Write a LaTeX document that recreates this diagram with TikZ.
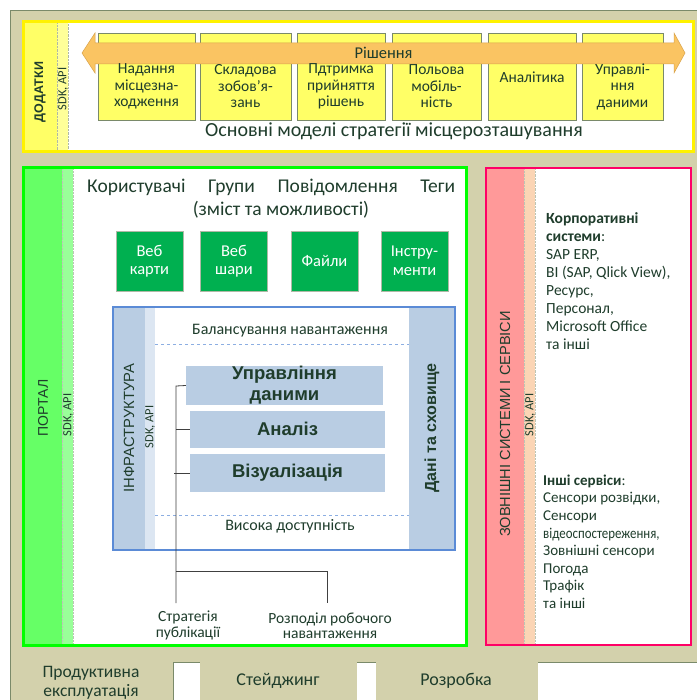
\documentclass[tikz,border=0pt]{standalone}
\usepackage{fontspec}
\usepackage{graphicx}
\setmainfont{Carlito}
\newfontfamily\arialf{Liberation Sans}
\usetikzlibrary{positioning}

\definecolor{beige}{HTML}{D3D1AC}
\definecolor{frameline}{HTML}{7A8A6A}
\definecolor{txt}{HTML}{1F3D2C}
\definecolor{yelbox}{HTML}{FFFF66}
\definecolor{yelband}{HTML}{FFFF99}
\definecolor{arrowfill}{HTML}{FAC462}
\definecolor{arrowline}{HTML}{D9A24A}
\definecolor{portal}{HTML}{66FF66}
\definecolor{portalsdk}{HTML}{99FF99}
\definecolor{webgreen}{HTML}{00B050}
\definecolor{infra}{HTML}{B9CDE3}
\definecolor{infrasdk}{HTML}{DCE6F2}
\definecolor{infraline}{HTML}{5B8BD6}
\definecolor{extband}{HTML}{FF9999}
\definecolor{extsdk}{HTML}{FBD5B5}
\definecolor{extline}{HTML}{FF0066}

\begin{document}
\begin{tikzpicture}[x=1pt,y=-1pt,
  every node/.style={text=txt,inner sep=0pt},
  model box/.style={draw=frameline,fill=yelbox,minimum height=87pt},
  model text/.style={font=\fontsize{15.5}{16.5}\selectfont,align=center},
  web box/.style={draw=frameline!60,fill=webgreen,minimum width=67pt,minimum height=60pt,
    text=white,font=\fontsize{16.5}{18.5}\selectfont,align=center},
  core box/.style={fill=infra,minimum width=196pt,minimum height=37pt,
    font=\arialf\bfseries\fontsize{18.5}{21}\selectfont,align=center},
  side label/.style={rotate=90,font=\arialf\fontsize{14.8}{16}\selectfont},
  sdk label/.style={rotate=90,font=\fontsize{12.5}{14}\selectfont},
  list text/.style={font=\fontsize{15.5}{18}\selectfont,align=left,anchor=north west},
  link/.style={draw=black!75,line width=0.8pt}]

  \useasboundingbox (0,0) rectangle (697,700);
  \fill[white] (0,0) rectangle (697,700);
  \fill[beige] (10,11) rectangle (697,700);
  \draw[frameline,line width=1pt] (10,700) -- (10,11) -- (697,11);

  % bottom tabs
  \fill[white] (173,662) rectangle (697,700);
  \draw[frameline,line width=1pt] (173,700) -- (173,662) -- (697,662);
  \fill[beige] (200,662) rectangle (357,700);
  \fill[beige] (376,662) rectangle (538,700);
  \node[font=\fontsize{17.5}{19}\selectfont,align=center] (prod) at (91,683) {Продуктивна\\експлуатація};
  \node[font=\fontsize{18}{20}\selectfont] (stage) at (278,681) {Стейджинг};
  \node[font=\fontsize{18}{20}\selectfont] (dev) at (456,681) {Розробка};

  % apps
  \fill[white] (23,22) rectangle (693,152);
  \fill[yelbox] (23,22) rectangle (57,152);
  \filldraw[fill=yelband,draw=frameline!60,densely dotted,line width=0.4pt] (57,22) rectangle (68,152);
  \draw[yellow,line width=3pt] (23,22) rectangle (693,152);
  \node[side label,font=\arialf\bfseries\fontsize{12.5}{15}\selectfont] (apps) at (40,92) {ДОДАТКИ};
  \node[sdk label] (appsdk) at (63,89) {SDK, API};

  \node[model box,minimum width=97pt] (m1) at (146.5,76.5) {};
  \node[model box,minimum width=91pt] (m2) at (245.5,76.5) {};
  \node[model box,minimum width=88pt] (m3) at (341,76.5) {};
  \node[model box,minimum width=89pt] (m4) at (436.5,76.5) {};
  \node[model box,minimum width=88pt] (m5) at (532,76.5) {};
  \node[model box,minimum width=81pt] (m6) at (622.5,76.5) {};

  \filldraw[fill=arrowfill,draw=arrowline,line width=0.5pt]
    (82,53) -- (95,33) -- (95,43) -- (674,43) -- (674,33) -- (685,53)
    -- (674,73) -- (674,64) -- (95,64) -- (95,73) -- cycle;
  \node[font=\fontsize{16.5}{18}\selectfont] (sol) at (383.5,53) {Рішення};

  \node[model text] (t1) at (146.5,86.5) {Надання\\місцезна-\\ходження};
  \node[model text] (t2) at (245.5,86.5) {Складова\\зобов’я-\\зань};
  \node[model text] (t3) at (341,86.5) {Пдтримка\\прийняття\\рішень};
  \node[model text] (t4) at (436.5,86.5) {Польова\\мобіль-\\ність};
  \node[model text] (t5) at (532,77) {Аналітика};
  \node[model text] (t6) at (622.5,86.5) {Управлі-\\ння\\даними};
  \node[font=\fontsize{20}{22}\selectfont] (models) at (394,131) {Основні моделі стратегії місцерозташування};

  % portal
  \fill[white] (23,168) rectangle (466,645);
  \fill[portal] (23,168) rectangle (62,645);
  \filldraw[fill=portalsdk,draw=frameline!50,densely dotted,line width=0.4pt] (62,168) rectangle (73,645);
  \draw[green,line width=3pt] (23,168) rectangle (466,645);
  \node[side label,font=\arialf\fontsize{14}{16}\selectfont] (portal) at (43,408) {ПОРТАЛ};
  \node[sdk label] (portalsdk) at (68,415) {SDK, API};

  \node[font=\fontsize{19.5}{23}\selectfont,text width=368pt,anchor=west] (users) at (87,187)
    {Користувачі\hfill Групи\hfill Повідомлення\hfill Теги};
  \node[font=\fontsize{19.5}{23}\selectfont] (content) at (281,210) {(зміст та можливості)};

  \node[web box] (maps) at (149.5,261) {Веб\\карти};
  \node[web box] (layers) at (234,261) {Веб\\шари};
  \node[web box] (files) at (324.5,261) {Файли};
  \node[web box] (tools) at (414.5,261) {Інстру-\\менти};

  % infrastructure
  \fill[infra] (113,307) rectangle (145,550);
  \fill[infrasdk] (145,307) rectangle (155,550);
  \fill[infra] (409,307) rectangle (455,550);
  \draw[infraline,line width=1.2pt] (113,307) rectangle (455,550);
  \draw[infraline!70,dashed,line width=0.6pt] (155,344) -- (409,344);
  \draw[infraline!70,dashed,line width=0.6pt] (155,515) -- (409,515);
  \node[side label] (infra) at (129,428) {ІНФРАСТРУКТУРА};
  \node[sdk label] (infrasdk) at (150,427) {SDK, API};
  \node[side label,font=\arialf\bfseries\fontsize{16}{18}\selectfont] (store) at (432,428) {Дані та сховище};
  \node[font=\fontsize{16}{18}\selectfont] (balance) at (290,331) {Балансування навантаження};
  \node[font=\fontsize{16}{18}\selectfont] (avail) at (290,526) {Висока доступність};

  \node[core box,minimum width=197pt] (dm) at (284.5,385.5) {Управління\\даними};
  \node[core box,minimum width=195pt] (an) at (287.5,429) {Аналіз};
  \node[core box,minimum width=195pt,minimum height=38pt] (vis) at (287.5,473) {Візуалізація};

  \node[font=\fontsize{15.5}{15.5}\selectfont,align=center] (strat) at (188,625.5) {Стратегія\\публікації};
  \node[font=\fontsize{15.5}{15.5}\selectfont,align=center] (load) at (330,625.5) {Розподіл робочого\\навантаження};

  \coordinate (j1) at (176,386);
  \coordinate (j2) at (176,571);
  \coordinate (j3) at (176,603);
  \coordinate (j4) at (327,571);
  \coordinate (j5) at (327,603);
  \draw[link] (dm.west) -- (j1) -- (j3);
  \draw[link] (an.west) -- (j1 |- an.west);
  \draw[link] (vis.west) -- ([xshift=-2pt]j1 |- vis.west);
  \draw[link] (j2) -- (j4) -- (j5);

  % external systems
  \fill[white] (486,168) rectangle (691,645);
  \fill[extband] (487,168) rectangle (524,645);
  \filldraw[fill=extsdk,draw=frameline!50,densely dotted,line width=0.4pt] (524,168) rectangle (535,645);
  \draw[extline,line width=2pt] (486,168) rectangle (691,645);
  \node[side label,font=\arialf\fontsize{14.6}{16}\selectfont] (ext) at (505,424) {ЗОВНІШНІ СИСТЕМИ І СЕРВІСИ};
  \node[sdk label] (extsdk) at (530,415) {SDK, API};

  \node[list text] (corp) at (546,212)
    {\textbf{Корпоративні}\\\textbf{системи}:\\SAP ERP,\\BI (SAP, Qlick View),\\Ресурс,\\Персонал,\\Microsoft Office\\та інші};
  \node[list text,font=\fontsize{15}{17.6}\selectfont] (other) at (543,474.5)
    {\textbf{Інші сервіси}:\\Сенсори розвідки,\\Сенсори\\\scalebox{0.86}[1]{відеоспостереження,}\\Зовнішні сенсори\\Погода\\Трафік\\та інші};
\end{tikzpicture}
\end{document}
